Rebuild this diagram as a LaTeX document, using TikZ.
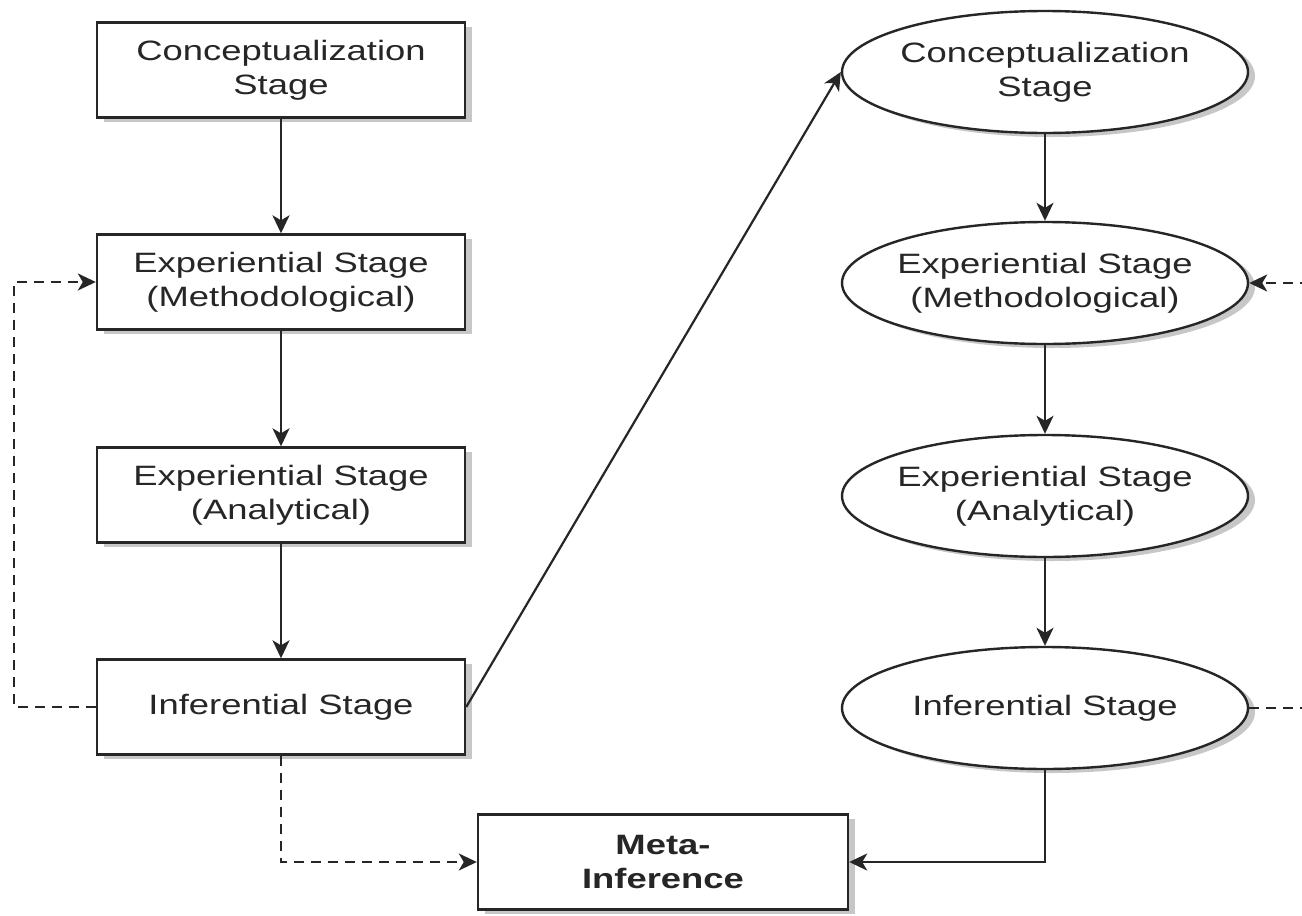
\documentclass[tikz,border=0pt]{standalone}
\usepackage{fontspec}
\setmainfont{Liberation Sans}[FakeStretch=1.3]
\usetikzlibrary{shapes.geometric,arrows.meta,shadows}

\tikzset{
  ink/.style={draw=black!85, line width=2.4pt},
  shade/.style={drop shadow={shadow xshift=7pt, shadow yshift=-4pt, fill=black!22, opacity=1}},
  stagebox/.style={ink, shade, fill=white, rectangle, minimum width=368pt, minimum height=95pt,
    inner sep=0pt, align=center, text=black!85, font=\fontsize{28}{34}\selectfont},
  stageoval/.style={ink, shade, fill=white, ellipse, minimum width=406pt, minimum height=122pt,
    inner sep=0pt},
  ovaltext/.style={align=center, text=black!85, font=\fontsize{28}{34}\selectfont},
  flow/.style={draw=black!85, line width=2.2pt, -{Stealth[length=18pt,width=17pt,inset=5pt]}},
  dashflow/.style={flow, dash pattern=on 10pt off 7pt},
}

\begin{document}
\begin{tikzpicture}[x=1pt, y=-1pt]
  \useasboundingbox[fill=white] (0,0) rectangle (1302,916);
  \begin{scope}
    \clip (0,0) rectangle (1302,916);

    % first strand: rectangles
    \node[stagebox] (b1) at (281,70)  {Conceptualization\\Stage};
    \node[stagebox] (b2) at (281,282) {Experiential Stage\\(Methodological)};
    \node[stagebox] (b3) at (281,495) {Experiential Stage\\(Analytical)};
    \node[stagebox] (b4) at (281,707) {Inferential Stage};

    % second strand: ellipses
    \node[stageoval, label={[ovaltext]center:Conceptualization\\Stage}] (e1) at (1045,72) {};
    \node[stageoval, label={[ovaltext]center:Experiential Stage\\(Methodological)}] (e2) at (1045,283) {};
    \node[stageoval, label={[ovaltext]center:Experiential Stage\\(Analytical)}] (e3) at (1045,496) {};
    \node[stageoval, label={[ovaltext]center:Inferential Stage}] (e4) at (1045,708) {};

    % combined result
    \node[stagebox, minimum width=370pt, font=\fontsize{28}{34}\selectfont\bfseries] (meta) at (663,862) {Meta-\\Inference};

    % flow within each strand
    \draw[flow] (b1) -- (b2);
    \draw[flow] (b2) -- (b3);
    \draw[flow] (b3) -- (b4);
    \draw[flow] (e1) -- (e2);
    \draw[flow] (e2) -- (e3);
    \draw[flow] (e3) -- (e4);

    % from the first strand into the second
    \draw[flow] (b4.east) -- (e1.west);

    % feedback loops
    \draw[dashflow] (b4.west) -- ++(-82,0) |- (b2.west);
    \draw[dashflow] (e4.east) -- ++(90,0) |- (e2.east);

    % into the meta-inference
    \draw[dashflow] (b4.south) |- (meta.west);
    \draw[flow] (e4.south) |- (meta.east);
  \end{scope}
\end{tikzpicture}
\end{document}
